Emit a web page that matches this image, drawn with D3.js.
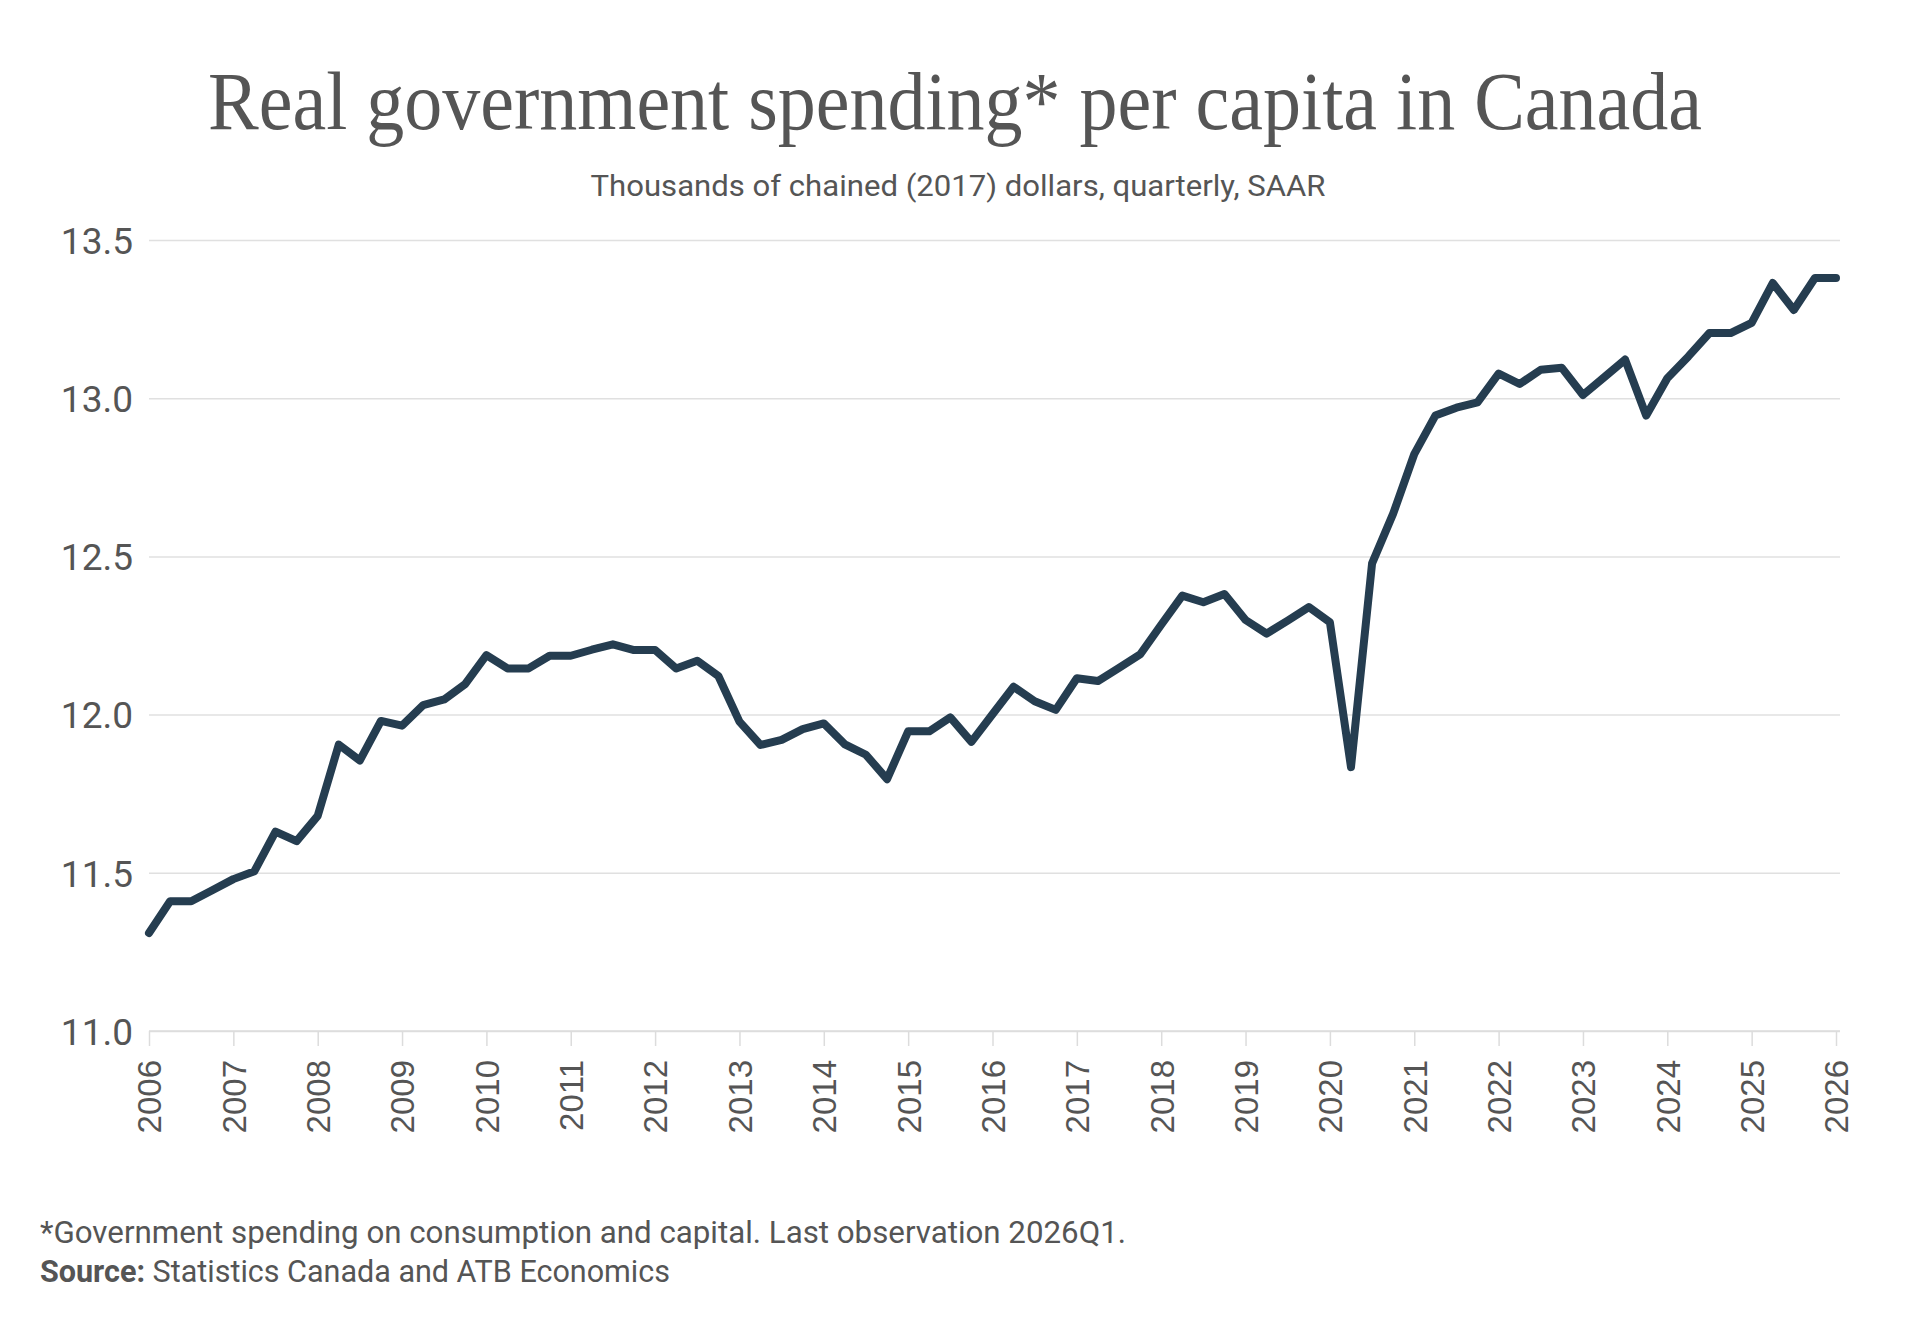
<!DOCTYPE html>
<html>
<head>
<meta charset="utf-8">
<script src="https://cdn.jsdelivr.net/npm/d3@7"></script>
<style>
    body { margin: 0; background: #fff; }
    svg { display: block; }
</style>
</head>
<body>
<svg id="chart" width="1920" height="1333"></svg>
<script>
var startYear = 2006;
// quarterly values, 2006Q1 .. 2026Q1
var spending = [
    11.31, 11.41, 11.41, 11.445,
    11.48, 11.505, 11.63, 11.60,
    11.68, 11.905, 11.855, 11.98,
    11.965, 12.03, 12.048, 12.097,
    12.188, 12.146, 12.146, 12.186,
    12.186, 12.205, 12.222, 12.204,
    12.204, 12.146, 12.17, 12.122,
    11.978, 11.904, 11.92, 11.954,
    11.972, 11.906, 11.873, 11.796,
    11.947, 11.947, 11.991, 11.914,
    12.001, 12.088, 12.042, 12.015,
    12.115, 12.106, 12.148, 12.19,
    12.284, 12.376, 12.355, 12.381,
    12.299, 12.256, 12.297, 12.34,
    12.292, 11.834, 12.478, 12.635,
    12.823, 12.945, 12.97, 12.987,
    13.078, 13.045, 13.09, 13.096,
    13.01, 13.066, 13.122, 12.945,
    13.063, 13.132, 13.206, 13.206,
    13.238, 13.364, 13.279, 13.38,
    13.38
];
var yearTicks = d3.range(2006, 2027);
var valueTicks = [11.0, 11.5, 12.0, 12.5, 13.0, 13.5];

(function () {
    var svg = d3.select("#chart");
    var grey = "#555555";
    var sans = "Roboto, 'Liberation Sans', sans-serif";

    var x = d3.scaleLinear().domain([2006, 2026]).range([149, 1836]);
    var y = d3.scaleLinear().domain([11, 13.5]).range([1031, 240]);

    // title + subtitle
    svg.append("text")
        .attr("x", 955).attr("y", 129)
        .attr("text-anchor", "middle")
        .attr("textLength", 1494)
        .attr("lengthAdjust", "spacingAndGlyphs")
        .style("font-family", "'Liberation Serif', 'DejaVu Serif', serif")
        .style("font-size", "82px")
        .style("fill", grey)
        .text("Real government spending* per capita in Canada");

    svg.append("text")
        .attr("x", 958).attr("y", 196)
        .attr("text-anchor", "middle")
        .attr("textLength", 735)
        .attr("lengthAdjust", "spacingAndGlyphs")
        .style("font-family", sans)
        .style("font-size", "29px")
        .style("fill", grey)
        .text("Thousands of chained (2017) dollars, quarterly, SAAR");

    // horizontal grid
    var yAxis = d3.axisLeft(y)
        .tickValues(valueTicks)
        .tickSize(-(1840 - 149))
        .tickPadding(16)
        .tickFormat(d3.format(".1f"));

    var gy = svg.append("g")
        .attr("transform", "translate(149,0)")
        .call(yAxis);
    gy.select(".domain").remove();
    gy.selectAll(".tick line")
        .attr("stroke", "#e0e0e0")
        .attr("stroke-width", 1.5);
    gy.selectAll(".tick text")
        .attr("dy", "0.36em")
        .style("font-family", sans)
        .style("font-size", "37px")
        .style("fill", grey);

    // x axis with year ticks
    var xAxis = d3.axisBottom(x)
        .tickValues(yearTicks)
        .tickSize(15)
        .tickSizeOuter(0)
        .tickFormat(d3.format("d"));

    var gx = svg.append("g")
        .attr("transform", "translate(0,1031)")
        .call(xAxis);
    gx.select(".domain")
        .attr("d", "M149,0H1840")
        .attr("stroke", "#dcdcdc")
        .attr("stroke-width", 1.5);
    gx.selectAll(".tick line")
        .attr("stroke", "#dcdcdc")
        .attr("stroke-width", 1.5);
    gx.selectAll(".tick text")
        .attr("transform", "rotate(-90)")
        .attr("x", -29)
        .attr("y", 0)
        .attr("dy", "0.36em")
        .attr("text-anchor", "end")
        .style("font-family", "'Liberation Sans', Arial, sans-serif")
        .style("font-size", "33px")
        .style("fill", grey);

    // the line
    var line = d3.line()
        .x(function (d, i) { return x(startYear + i / 4); })
        .y(function (d) { return y(d); });

    svg.append("path")
        .datum(spending)
        .attr("d", line)
        .attr("fill", "none")
        .attr("stroke", "#253d50")
        .attr("stroke-width", 8)
        .attr("stroke-linejoin", "round")
        .attr("stroke-linecap", "round");

    // footnote
    svg.append("text")
        .attr("x", 40).attr("y", 1243)
        .attr("textLength", 1086)
        .attr("lengthAdjust", "spacingAndGlyphs")
        .style("font-family", sans)
        .style("font-size", "30.5px")
        .style("fill", grey)
        .text("*Government spending on consumption and capital. Last observation 2026Q1.");

    var src = svg.append("text")
        .attr("x", 40).attr("y", 1282)
        .attr("textLength", 630)
        .attr("lengthAdjust", "spacingAndGlyphs")
        .style("font-family", sans)
        .style("font-size", "30.5px")
        .style("fill", grey);
    src.append("tspan").style("font-weight", "bold").text("Source:");
    src.append("tspan").text(" Statistics Canada and ATB Economics");
})();
</script>
</body>
</html>
